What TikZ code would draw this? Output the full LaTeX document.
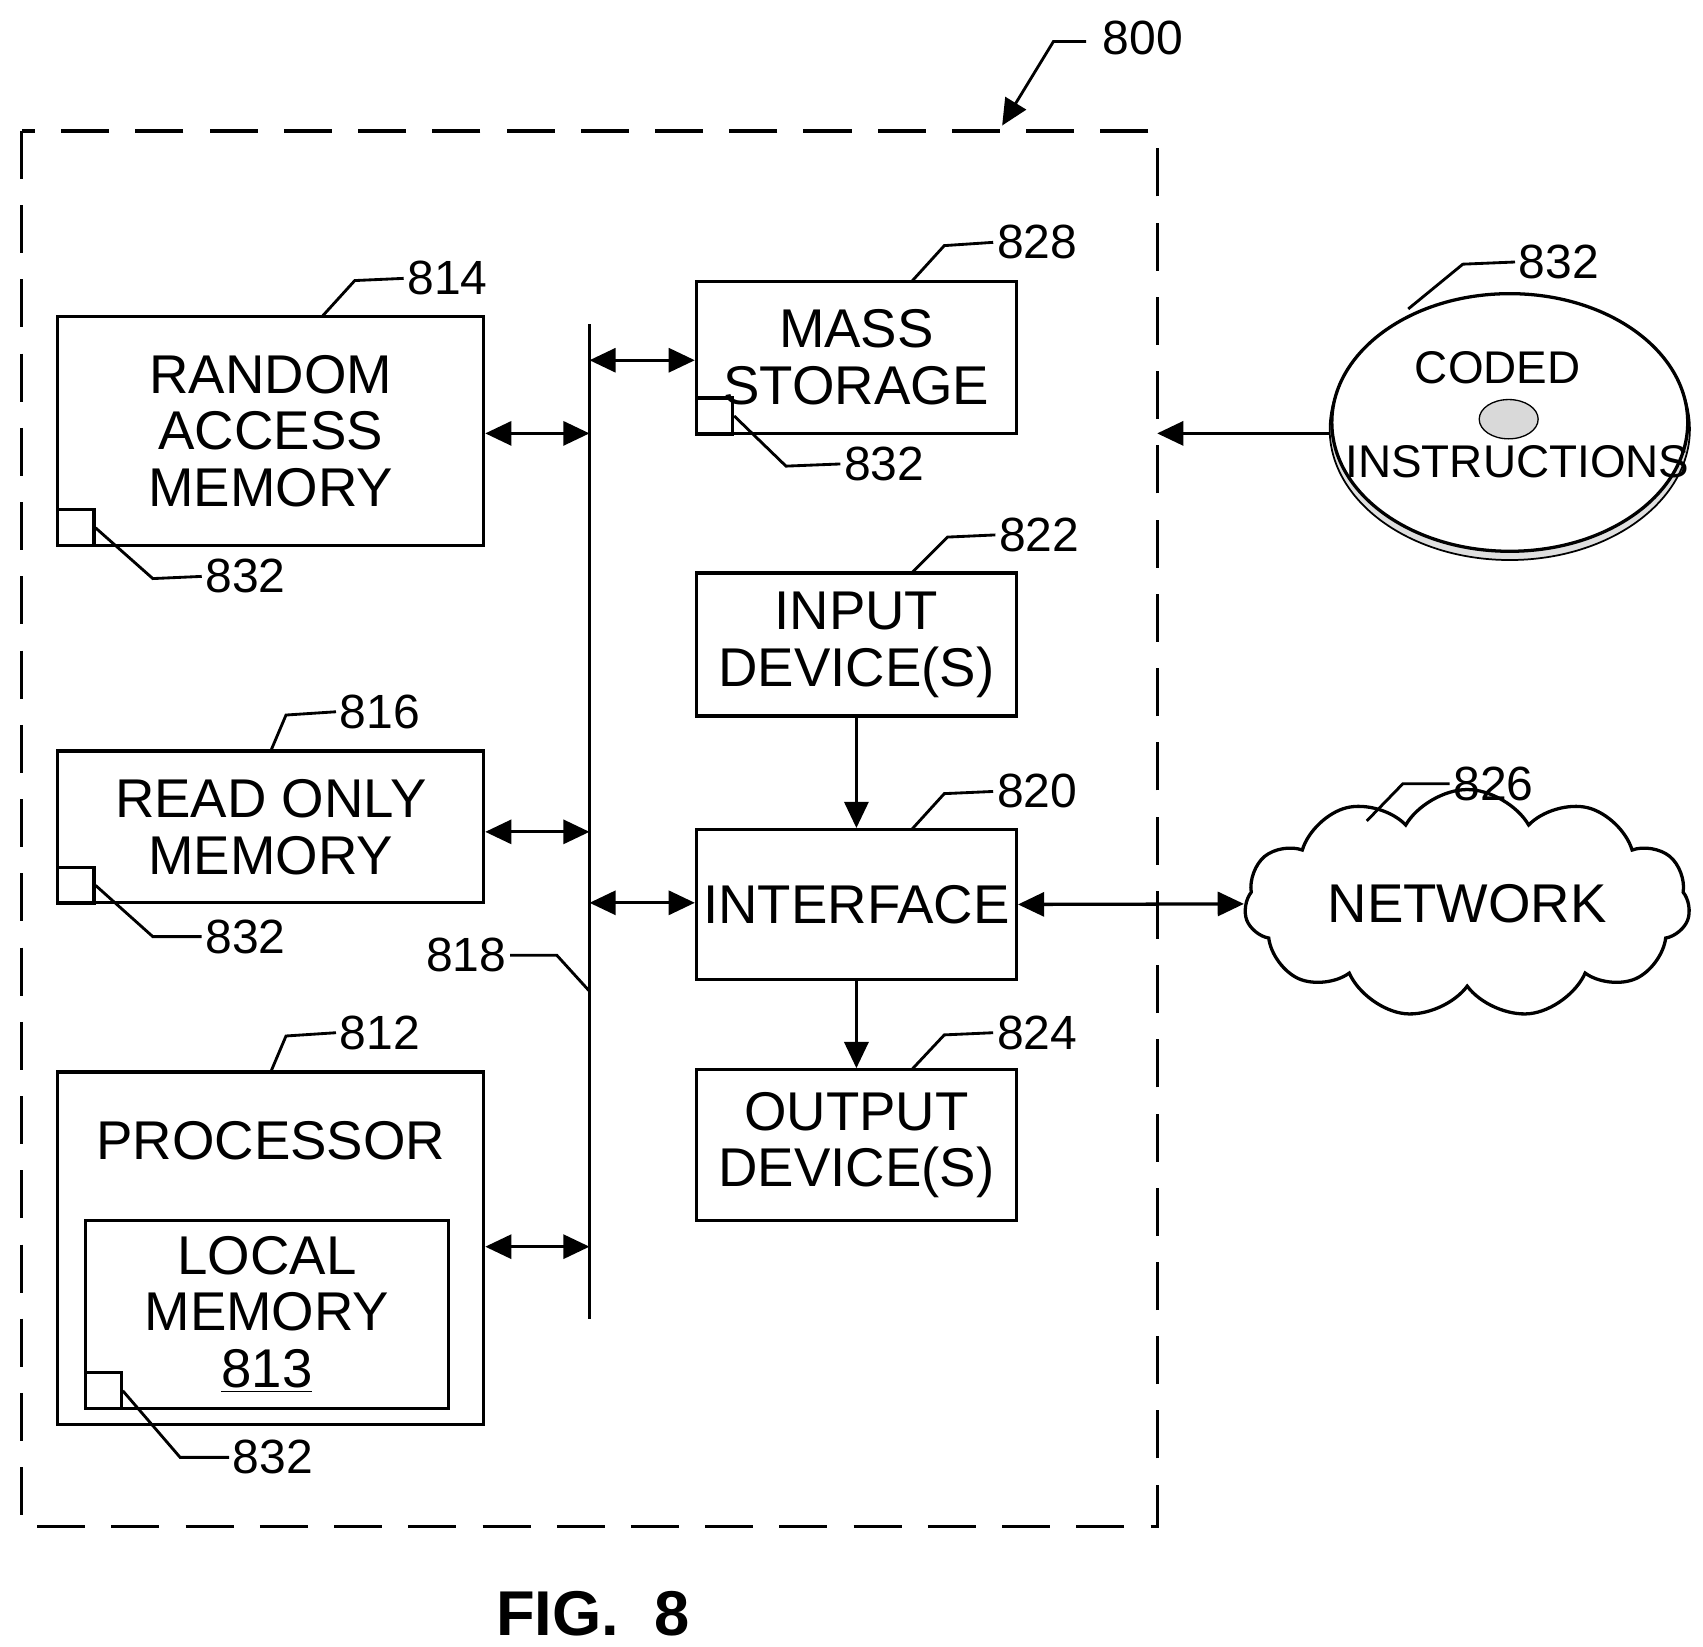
\documentclass[tikz,border=0pt]{standalone}
\usepackage{fontspec}
\setmainfont{Liberation Sans}
\usetikzlibrary{arrows.meta,shapes.symbols,shapes.geometric}
\begin{document}
\begin{tikzpicture}[x=0.5pt,y=-0.5pt,line width=1.5pt,
  box/.style={draw,rectangle,inner sep=0pt,align=center,font=\fontsize{25}{26}\selectfont},
  sq/.style={draw,rectangle,inner sep=0pt,minimum size=16.5pt},
  lbl/.style={font=\fontsize{22}{24}\selectfont,inner sep=1pt},
  ld/.style={line width=1.3pt},
  arr/.style={-{Triangle[length=12pt,width=11pt]}},
  darr/.style={{Triangle[length=12pt,width=11pt]}-{Triangle[length=12pt,width=11pt]}}]
\useasboundingbox (0,0) rectangle (1560,1508);
\draw[dash pattern=on 22pt off 12pt] (20,120) rectangle (1060,1398);
\node[lbl] (l800) at (1047,35) {800};
\draw[ld,arr] (995,38) -- (965,38) -- (918,115);
% RAM
\node[box,minimum width=195pt,minimum height=105pt] (ram) at (248,395) {RANDOM\\ACCESS\\MEMORY};
\node[sq] (sram) at (69.5,483.5) {};
\node[lbl] (l832a) at (225,528) {832};
\draw[ld] (sram.east) -- (140,530) -- (l832a.west);
\node[lbl] (l814) at (410,255) {814};
\draw[ld] (295,290) -- (325,257) -- (l814.west);
% ROM
\node[box,minimum width=195pt,minimum height=69.5pt] (rom) at (248,757.5) {READ ONLY\\MEMORY};
\node[sq] (srom) at (69.5,811) {};
\node[lbl] (l832b) at (225,858) {832};
\draw[ld] (srom.east) -- (140,858) -- (l832b.west);
\node[lbl] (l816) at (348,652) {816};
\draw[ld] (248,688) -- (262,655) -- (l816.west);
% Processor
\node[box,minimum width=195pt,minimum height=161.5pt] (proc) at (248,1143.5) {};
\node[font=\fontsize{25}{26}\selectfont] (ptxt) at (248,1045) {PROCESSOR};
\node[box,minimum width=166.5pt,minimum height=86pt] (lm) at (244.5,1204) {LOCAL\\MEMORY\\\underline{813}};
\node[sq] (slm) at (94.5,1274) {};
\node[lbl] (l832c) at (250,1335) {832};
\draw[ld] (slm.east) -- (165,1335) -- (l832c.west);
\node[lbl] (l812) at (348,946) {812};
\draw[ld] (248,982) -- (262,949) -- (l812.west);
% Bus
\coordinate (bt) at (540,297);
\coordinate (bb) at (540,1208);
\draw (bt) -- (bb);
\node[lbl] (l818) at (427,875) {818};
\draw[ld] (l818.east) -- (510,875) -- (540,908);
\draw[darr] (ram.east |- 0,397) -- (540,397);
\draw[darr] (rom.east |- 0,762) -- (540,762);
\draw[darr] (proc.east |- 0,1142) -- (540,1142);
% Mass storage
\node[box,minimum width=146.5pt,minimum height=69.5pt] (ms) at (784.5,327.5) {MASS\\STORAGE};
\node[sq] (sms) at (654.5,381) {};
\node[lbl] (l832d) at (810,425) {832};
\draw[ld] (sms.east) -- (720,427) -- (l832d.west);
\node[lbl] (l828) at (950,222) {828};
\draw[ld] (835,258) -- (865,225) -- (l828.west);
\draw[darr] (540,330) -- (ms.west |- 0,330);
% Input
\node[box,minimum width=146.5pt,minimum height=65.5pt] (in) at (784.5,590.5) {INPUT\\DEVICE(S)};
\node[lbl] (l822) at (952,490) {822};
\draw[ld] (835,525) -- (868,492) -- (l822.west);
% Interface
\node[box,minimum width=146.5pt,minimum height=68.5pt] (if) at (784.5,828.5) {INTERFACE};
\node[lbl] (l820) at (950,725) {820};
\draw[ld] (835,760) -- (865,727) -- (l820.west);
\draw[darr] (540,827) -- (if.west |- 0,827);
\draw[arr] (in.south) -- (if.north);
% Output
\node[box,minimum width=146.5pt,minimum height=69pt] (out) at (784.5,1049) {OUTPUT\\DEVICE(S)};
\node[lbl] (l824) at (950,946) {824};
\draw[ld] (835,980) -- (865,948) -- (l824.west);
\draw[arr] (if.south) -- (out.north);
% Network
\node[cloud,draw,cloud puffs=11,cloud puff arc=120,aspect=2.3,minimum width=204pt,minimum height=86pt,inner sep=0pt,font=\fontsize{25}{26}\selectfont] (net) at (1344,828) {NETWORK};
\node[lbl] (l826) at (1368,718) {826};
\draw[ld] (1252,752) -- (1285,718) -- (l826.west);
\draw[darr] (if.east) -- (net.west);
% Disc
\draw[line width=0.8pt,fill=gray!25] (1383,393) ellipse (165 and 120);
\node[ellipse,draw,fill=white,minimum width=163pt,minimum height=118pt,inner sep=0pt] (disc) at (1383,387) {};
\draw[line width=0.6pt,fill=gray!30] (1382,384) ellipse (27 and 18);
\node[font=\fontsize{21}{22}\selectfont] (cod) at (1372,337) {CODED};
\node[font=\fontsize{21}{22}\selectfont] (ins) at (1390,423) {INSTRUCTIONS};
\node[lbl] (l832e) at (1428,240) {832};
\draw[ld] (1290,283) -- (1340,242) -- (l832e.west);
\coordinate (fr) at (1060,397);
\draw[arr] (disc.west |- 0,397) -- (fr);
\node[font=\fontsize{29}{30}\selectfont\bfseries] (fig) at (543,1478) {FIG.\ \ 8};
\end{tikzpicture}
\end{document}
